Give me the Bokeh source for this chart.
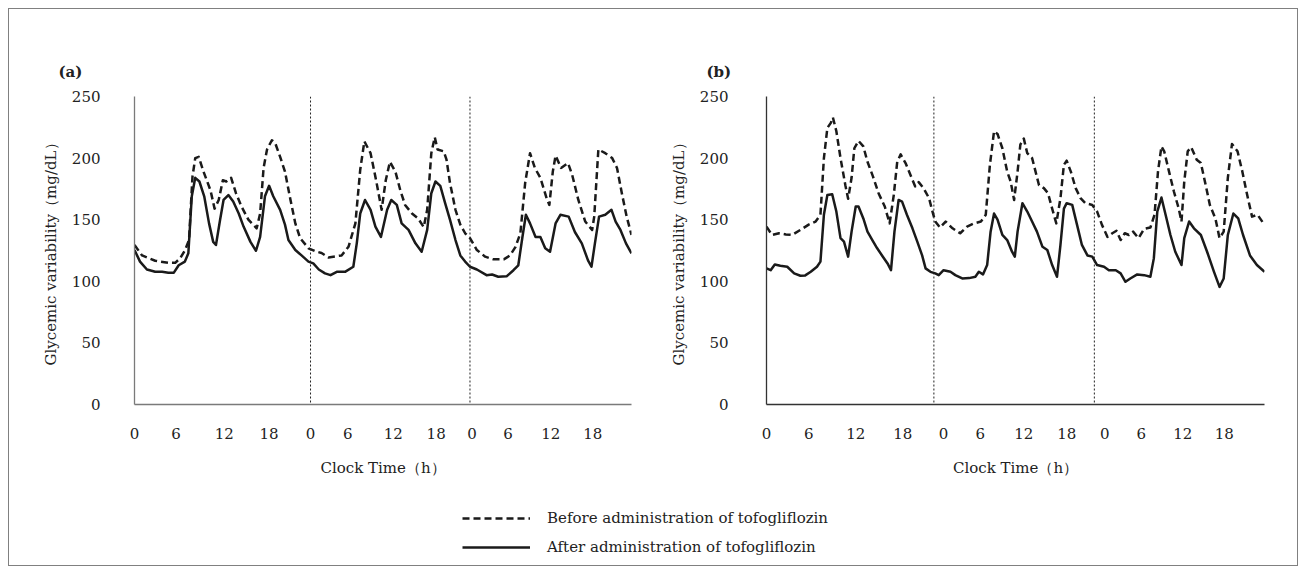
from bokeh.plotting import figure
from bokeh.models import FixedTicker, Span, Legend, LegendItem, Range1d
from bokeh.layouts import row, column
from bokeh.embed import file_html
from bokeh.resources import INLINE

SERIF = "DejaVu Serif"
INK = "#1a1a1a"
TXT = "#222222"

# ---------------- data (x = position along the 3-day clock-time axis, h) -------------
A_BEFORE_T = [0.0,1.1,3.0,4.9,5.9,6.6,7.3,7.9,8.4,8.8,9.3,10.0,11.0,11.6,12.2,12.8,13.3,14.0,14.7,15.5,
              16.5,17.7,18.2,18.7,19.2,19.9,20.4,21.1,21.8,22.6,23.3,24.0,25.2,26.4,27.1,28.1,30.0,31.0,32.0,32.7,
              33.3,34.2,35.0,35.8,36.4,37.0,37.8,38.5,39.2,40.2,41.1,41.9,42.4,43.0,43.5,43.9,44.8,45.2,45.7,46.5,
              47.2,47.9,48.6,49.6,50.8,52.0,53.5,54.4,55.2,55.9,56.6,57.3,58.0,58.8,59.7,60.1,60.6,61.0,61.8,62.8,
              63.4,64.3,65.3,66.3,66.6,67.2,68.2,69.2,69.9,70.6,71.3,72.0]
A_BEFORE_V = [129.5,121,116.7,115,115,118.6,125,133.5,185,200,201,189,174,159,166,182,181,184,171.5,160.7,
              150,143,155,192,207,214.5,212,201,189,166,147,135,126.8,124,123,119.4,121,128,147,190.5,
              213.6,204,182,158,182,197,189,174,162,155,151,144,158,204,217,207,205.5,198.7,180,158,
              146,139,135,125.4,120,117.8,117.8,121,128,139,180,204,192,184,167.5,162,189,202,192,196,
              186.5,166,148.5,141.7,152.5,207,204,200,192,171.5,152.5,137.6]

A_AFTER_T = [0.0,0.8,1.8,3.0,4.0,4.9,5.7,6.4,7.3,7.8,8.3,8.8,9.4,10.1,10.8,11.4,11.8,12.4,12.9,13.6,
             14.3,15.1,15.8,16.8,17.6,18.2,18.9,19.5,20.1,21.1,21.8,22.3,23.3,24.2,25.2,25.9,26.7,27.6,28.4,29.3,
             30.5,31.7,32.2,32.7,33.4,34.2,34.9,35.7,36.6,37.2,38.0,38.7,39.7,40.7,41.6,42.4,43.0,43.6,44.3,45.0,
             45.7,46.5,47.2,47.9,48.6,49.6,51.0,51.8,52.7,53.9,54.9,55.6,56.2,56.7,57.3,58.1,58.8,59.5,60.2,61.0,
             61.7,62.9,63.8,64.8,65.7,66.2,66.7,67.3,68.2,69.1,69.7,70.4,71.2,72.0]
A_AFTER_V = [125.4,116,109.6,107.7,107.7,107,107,113,116,122.7,169,184,181,169,147,132,129.5,150,166,170,
             164.7,155,144.4,132,124.8,136,169,177.5,169,158,146,133.5,125.4,121,116,114.5,109.6,106.4,105,107.7,
             107.7,111.8,130.8,155,166,158,144.4,136,158,166,162,147,141.7,130.8,124,141.7,171.5,181,177.5,163.4,
             150,133.5,121,116,111.8,109.6,105,105.5,103.7,104,109,113,136,154,147,136,136,126.8,124,147,
             154,152.5,140,130.8,117,111.8,130.8,152.5,154,158,148.5,141.7,130.8,122.7]

B_BEFORE_T = [0.0,0.8,1.8,2.8,3.7,4.9,6.1,7.1,7.8,8.3,8.8,9.3,9.6,10.1,10.7,11.4,11.8,12.3,12.7,13.3,
              14.0,14.6,15.4,16.2,17.1,17.8,18.4,18.9,19.4,20.1,20.8,21.5,22.0,22.7,23.5,24.0,24.4,25.1,25.9,26.9,
              28.0,29.0,30.0,31.0,31.7,32.3,32.9,33.4,34.1,34.8,35.3,35.8,36.3,36.7,37.2,37.7,38.4,38.9,39.4,40.1,
              40.7,41.3,41.9,42.5,43.0,43.4,44.0,44.7,45.4,46.1,47.1,47.8,48.5,49.3,50.0,50.6,51.2,51.8,52.4,53.0,
              53.8,54.6,55.5,56.1,56.6,57.1,57.5,58.2,58.9,59.6,60.0,60.4,60.9,61.4,62.2,62.8,63.5,64.1,64.9,65.5,
              66.1,66.7,67.3,68.1,68.8,69.5,70.2,71.0,72.0]
B_BEFORE_V = [144.4,137.6,139,138,137.6,141.7,146,148.5,154,200,224.5,228.6,233,221.8,200,178,167,184,208,214,
              209.5,197,185,171.5,160.7,147,170,197,203,196,186.5,177,180.5,175.6,167.5,156.6,148.5,143.6,148.5,143,
              139,144.4,147,148.5,154,194.6,221.8,219.6,208,189,181,166,189,211,215.8,204,200,189,178,175.6,
              171.5,159,147,167.5,194.6,197.9,189,175.6,167.5,163.4,162,156.6,145.8,136,139,141,133.5,139,137.6,140.3,
              135,142.5,143.6,154,189,209.5,205.5,189,172.9,159,148.5,181,205.5,208.9,198.7,196,178,162,151,135,
              140.3,184,211.5,205.5,189,170,152.5,154,145.8]

B_AFTER_T = [0.0,0.6,1.2,2.0,3.0,4.0,4.9,5.6,6.4,7.3,7.8,8.3,8.8,9.5,10.1,10.7,11.2,11.8,12.3,12.9,
             13.3,14.0,14.6,15.3,16.0,16.7,17.5,18.0,18.5,19.1,19.6,20.3,21.1,21.8,22.5,23.0,23.7,24.4,24.9,25.6,
             26.6,27.3,28.3,29.3,30.2,30.7,31.3,31.9,32.4,32.9,33.4,34.1,34.8,35.5,35.9,36.3,37.0,37.7,38.4,39.1,
             39.9,40.6,41.3,42.0,42.5,43.0,43.4,44.2,44.9,45.6,46.4,47.1,47.8,48.8,49.5,50.5,51.2,51.9,52.6,53.6,
             54.6,55.5,56.0,56.5,57.1,57.7,58.4,59.1,60.0,60.4,61.1,61.8,62.8,63.7,64.7,65.5,66.1,66.7,67.5,68.2,
             68.9,69.9,70.9,72.0]
B_AFTER_V = [110.5,109,113.7,112.6,111.8,106.4,104.5,104.8,107.7,111.8,116,154,170,170.7,156.6,135,132.2,120,140.3,160.7,
             160.7,151,140.3,133.5,126.8,121,114.5,109,140.3,166,164.7,154,143,132.2,121,110.5,107.7,106.4,105,109,
             107.7,105,102.3,102.6,103.7,107.7,105.6,113.2,140.3,155,150,137.6,133.5,124,120,140.3,163.4,156.6,148.5,140.3,
             128,125.4,113.2,103.7,129.5,159,163.4,162,145.8,129.5,121,120,113.2,111.8,109,109,106.4,99.6,102.3,105.6,
             105,103.7,118.6,156.6,168,154,137.6,124,113.2,135,148.5,143,137.6,124,107.7,95.5,102.3,137.6,155,151,
             137.6,121,113.2,107.7]

A_DAY_T = [25.5, 48.6]
B_DAY_T = [24.2, 47.4]
A_TICK_T = [0, 6.0, 13.0, 19.5, 25.5, 30.9, 37.5, 43.7, 48.9, 54.1, 60.3, 66.4]
B_TICK_T = [0, 6.1, 12.9, 19.7, 25.6, 30.9, 37.2, 43.4, 48.9, 54.2, 60.2, 66.2]
TICK_LABELS = ["0", "6", "12", "18"] * 3
Y_TICKS = [0, 50, 100, 150, 200, 250]

LABEL_BEFORE = "Before administration of tofogliflozin"
LABEL_AFTER = "After administration of tofogliflozin"
Y_LABEL = "Glycemic variability（mg/dL）"
X_LABEL = "Clock Time（h）"

FS = "15px"


def panel(tag, tag_offset, bt, bv, at, av, days, ticks, width, left, right,
          axis_color, ylab_standoff):
    p = figure(width=width, height=476, output_backend="svg", toolbar_location=None,
               x_range=Range1d(0, 72), y_range=Range1d(0, 250),
               min_border_left=left, min_border_right=right,
               min_border_top=87, min_border_bottom=81)
    p.outline_line_color = None
    p.grid.visible = False

    p.title.text = tag
    p.title.align = "left"
    p.title.offset = tag_offset
    p.title.standoff = 32
    p.title.text_font = SERIF
    p.title.text_font_size = FS
    p.title.text_font_style = "bold"
    p.title.text_color = TXT

    for t in days:
        p.add_layout(Span(location=t, dimension="height", line_color="#222222",
                          line_width=1, line_dash="2 2"))

    p.line(bt, bv, line_color=INK, line_width=2.5, line_dash="7 4", line_join="round")
    p.line(at, av, line_color=INK, line_width=2.5, line_join="round")

    xa = p.xaxis[0]
    xa.ticker = FixedTicker(ticks=ticks)
    xa.major_label_overrides = {t: l for t, l in zip(ticks, TICK_LABELS)}
    xa.major_label_standoff = 17
    xa.axis_label = X_LABEL
    xa.axis_label_standoff = 17

    ya = p.yaxis[0]
    ya.ticker = FixedTicker(ticks=Y_TICKS)
    ya.major_label_standoff = ylab_standoff
    ya.axis_label = Y_LABEL
    ya.axis_label_standoff = 9

    for ax in (xa, ya):
        ax.axis_line_color = axis_color
        ax.axis_line_width = 1.3
        ax.major_tick_line_color = None
        ax.minor_tick_line_color = None
        ax.major_label_text_font = SERIF
        ax.major_label_text_font_size = FS
        ax.major_label_text_color = TXT
        ax.axis_label_text_font = SERIF
        ax.axis_label_text_font_size = FS
        ax.axis_label_text_font_style = "normal"
        ax.axis_label_text_color = TXT
    return p


pa = panel("(a)", -76, A_BEFORE_T, A_BEFORE_V, A_AFTER_T, A_AFTER_V, A_DAY_T, A_TICK_T,
           636, 125, 14, "#7a7a7a", 28)
pb = panel("(b)", -60, B_BEFORE_T, B_BEFORE_V, B_AFTER_T, B_AFTER_V, B_DAY_T, B_TICK_T,
           652, 121, 33, "#333333", 32)

# legend strip (the proxy lines lie outside its visible range; only the legend shows)
lf = figure(width=1288, height=80, output_backend="svg", toolbar_location=None,
            x_range=Range1d(-20, -10), y_range=Range1d(0, 1), min_border=0,
            x_axis_type=None, y_axis_type=None)
lf.outline_line_color = None
lf.grid.visible = False
r1 = lf.line(A_BEFORE_T, A_BEFORE_V, line_color=INK, line_width=2.5, line_dash="7 4")
r2 = lf.line(A_AFTER_T, A_AFTER_V, line_color=INK, line_width=2.5)
leg = Legend(items=[LegendItem(label=LABEL_BEFORE, renderers=[r1]),
                    LegendItem(label=LABEL_AFTER, renderers=[r2])],
             location=(453, 8), orientation="vertical",
             glyph_width=68, glyph_height=20, label_height=20, label_standoff=17,
             spacing=9, padding=0, margin=0,
             border_line_color=None, background_fill_alpha=0,
             label_text_font=SERIF, label_text_font_size=FS, label_text_color=TXT)
lf.add_layout(leg, "center")

layout = column(row(pa, pb), lf,
                styles={"border": "1px solid #808080", "margin": "8px"})

open("out.html", "w").write(file_html(layout, INLINE))
